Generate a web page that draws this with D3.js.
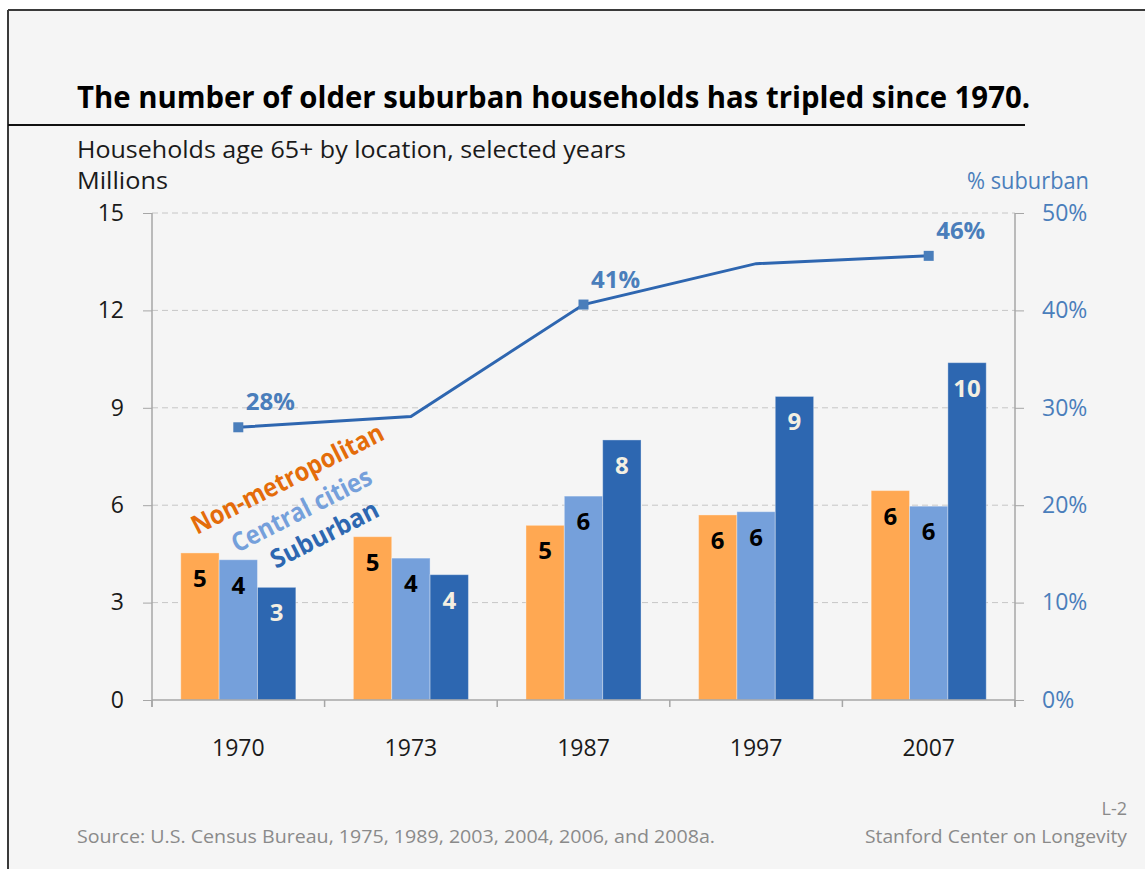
<!DOCTYPE html>
<html>
<head>
<meta charset="utf-8">
<script src="https://cdn.jsdelivr.net/npm/d3@7"></script>
<style>
  body { margin: 0; background: #fff; }
  text { font-family: "Open Sans", sans-serif; }
</style>
</head>
<body>
<script>
  // values (millions of households, % suburban)
  const years = ["1970", "1973", "1987", "1997", "2007"];
  const seriesNames = ["Non-metropolitan", "Central cities", "Suburban"];
  const nonMetro = [4.53, 5.03, 5.38, 5.70, 6.45];
  const centralCities = [4.32, 4.37, 6.28, 5.80, 5.97];
  const suburban = [3.47, 3.86, 8.01, 9.35, 10.39];
  const pctSuburban = [28.0, 29.1, 40.6, 44.8, 45.6];
  const markedYears = ["1970", "1987", "2007"];
  const leftTicks = [0, 3, 6, 9, 12, 15];
  const rightTicks = [0, 10, 20, 30, 40, 50];

(function() {
  const colors = ["#ffa852", "#75a0db", "#2d67b1"];
  const legendColors = ["#e46c0a", "#75a0db", "#2d67b1"];
  const labelColors = ["#000", "#000", "#f3efe2"];
  const lineColor = "#2e66b0";
  const pctColor = "#4a7ebb";

  const width = 1145, height = 869;
  const plotLeft = 152, plotRight = 1015, plotTop = 213, plotBottom = 700;

  let svg = d3.select("body").append("svg")
    .attr("width", width)
    .attr("height", height);

  // background + frame
  svg.append("rect")
    .attr("x", 8).attr("y", 10)
    .attr("width", width - 8).attr("height", height - 10)
    .attr("fill", "#f5f5f5");
  svg.append("line")
    .attr("x1", 8).attr("x2", 8).attr("y1", 10).attr("y2", height)
    .attr("stroke", "#3a3a3a").attr("stroke-width", 2);
  svg.append("line")
    .attr("x1", 8).attr("x2", width).attr("y1", 10).attr("y2", 10)
    .attr("stroke", "#3a3a3a").attr("stroke-width", 2);

  // title block
  svg.append("text")
    .attr("x", 77).attr("y", 108)
    .attr("textLength", 953).attr("lengthAdjust", "spacingAndGlyphs")
    .style("font-size", "31px").style("font-weight", "bold")
    .text("The number of older suburban households has tripled since 1970.");
  svg.append("line")
    .attr("x1", 8).attr("x2", 1025).attr("y1", 125).attr("y2", 125)
    .attr("stroke", "#111").attr("stroke-width", 2);
  svg.append("text")
    .attr("x", 77).attr("y", 158)
    .attr("textLength", 549).attr("lengthAdjust", "spacingAndGlyphs")
    .style("font-size", "23px").attr("fill", "#1a1a1a")
    .text("Households age 65+ by location, selected years");
  svg.append("text")
    .attr("x", 77).attr("y", 189)
    .attr("textLength", 91).attr("lengthAdjust", "spacingAndGlyphs")
    .style("font-size", "23px").attr("fill", "#1a1a1a")
    .text("Millions");
  svg.append("text")
    .attr("x", 1089).attr("y", 189)
    .attr("text-anchor", "end")
    .attr("textLength", 122).attr("lengthAdjust", "spacingAndGlyphs")
    .style("font-size", "23px").attr("fill", pctColor)
    .text("% suburban");

  // scales
  let y = d3.scaleLinear().domain([0, 15]).range([plotBottom, plotTop]);
  let yR = d3.scaleLinear().domain([0, 50]).range([plotBottom, plotTop]);
  let x0 = d3.scaleBand().domain(years).range([plotLeft, plotRight])
    .paddingInner(1 / 3).paddingOuter(1 / 6);
  let x1 = d3.scaleBand().domain(seriesNames).range([0, x0.bandwidth()]);

  // gridlines
  svg.append("g").selectAll("line")
    .data(leftTicks.filter((d) => d > 0))
    .enter().append("line")
      .attr("x1", plotLeft).attr("x2", plotRight)
      .attr("y1", (d) => y(d)).attr("y2", (d) => y(d))
      .attr("stroke", "#c6c6c6").attr("stroke-dasharray", "6,4");

  // left axis
  let yAxis = svg.append("g")
    .attr("transform", "translate(" + plotLeft + ",0)")
    .call(d3.axisLeft(y).tickValues(leftTicks).tickSize(9).tickPadding(19));
  yAxis.select(".domain").remove();
  yAxis.selectAll("line").attr("stroke", "#a6a6a6");
  yAxis.selectAll("text").style("font-size", "23px").attr("fill", "#1a1a1a");

  // right axis
  let yAxisR = svg.append("g")
    .attr("transform", "translate(" + plotRight + ",0)")
    .call(d3.axisRight(yR).tickValues(rightTicks).tickSize(9).tickPadding(18)
      .tickFormat((d) => d + "%"));
  yAxisR.select(".domain").remove();
  yAxisR.selectAll("line").attr("stroke", "#a6a6a6");
  yAxisR.selectAll("text").style("font-size", "23px").attr("fill", pctColor);

  svg.append("line")
    .attr("x1", plotLeft).attr("x2", plotLeft).attr("y1", plotTop).attr("y2", plotBottom + 7)
    .attr("stroke", "#a6a6a6").attr("stroke-width", 1.5);
  svg.append("line")
    .attr("x1", plotRight).attr("x2", plotRight).attr("y1", plotTop).attr("y2", plotBottom + 7)
    .attr("stroke", "#a6a6a6").attr("stroke-width", 1.5);

  // bars
  let seriesValues = [nonMetro, centralCities, suburban];
  let groups = svg.append("g").selectAll("g")
    .data(years)
    .enter().append("g")
      .attr("transform", (d) => "translate(" + x0(d) + ",0)");

  groups.each(function(year, i) {
    let g = d3.select(this);
    seriesNames.forEach((name, s) => {
      let v = seriesValues[s][i];
      g.append("rect")
        .attr("x", x1(name))
        .attr("y", y(v))
        .attr("width", x1.bandwidth())
        .attr("height", y(0) - y(v))
        .attr("fill", colors[s])
        .attr("stroke", "#ffffff").attr("stroke-opacity", 0.35).attr("stroke-width", 1);
      g.append("text")
        .attr("x", x1(name) + x1.bandwidth() / 2)
        .attr("y", y(v) + 34)
        .attr("text-anchor", "middle")
        .style("font-size", "24px").style("font-weight", "bold")
        .attr("fill", labelColors[s])
        .text(Math.round(v));
    });
  });

  // bottom axis
  svg.append("line")
    .attr("x1", plotLeft).attr("x2", plotRight).attr("y1", plotBottom).attr("y2", plotBottom)
    .attr("stroke", "#a6a6a6").attr("stroke-width", 1.5);
  let xAxis = svg.append("g")
    .attr("transform", "translate(0," + plotBottom + ")")
    .call(d3.axisBottom(x0).tickSize(0));
  xAxis.select(".domain").remove();
  xAxis.selectAll("text")
    .attr("y", 56).attr("dy", 0)
    .style("font-size", "23px").attr("fill", "#1a1a1a");
  let bounds = years.map((d) => x0(d) - x0.step() * x0.paddingOuter()).concat([plotRight]);
  svg.append("g").selectAll("line")
    .data(bounds)
    .enter().append("line")
      .attr("x1", (d) => d).attr("x2", (d) => d)
      .attr("y1", plotBottom).attr("y2", plotBottom + 7)
      .attr("stroke", "#a6a6a6").attr("stroke-width", 1.5);

  // % suburban line
  let cx = (d) => x0(d) + x0.bandwidth() / 2;
  let line = d3.line()
    .x((d, i) => cx(years[i]))
    .y((d) => yR(d));
  svg.append("path")
    .datum(pctSuburban)
    .attr("fill", "none")
    .attr("stroke", lineColor)
    .attr("stroke-width", 3)
    .attr("d", line);

  let marked = years.map((d, i) => ({ year: d, v: pctSuburban[i] }))
    .filter((d) => markedYears.includes(d.year));
  svg.append("g").selectAll("rect")
    .data(marked)
    .enter().append("rect")
      .attr("x", (d) => cx(d.year) - 5)
      .attr("y", (d) => yR(d.v) - 5)
      .attr("width", 10).attr("height", 10)
      .attr("fill", pctColor);
  svg.append("g").selectAll("text")
    .data(marked)
    .enter().append("text")
      .attr("x", (d) => cx(d.year) + 32)
      .attr("y", (d) => yR(d.v) - 17)
      .attr("text-anchor", "middle")
      .style("font-size", "24px").style("font-weight", "bold")
      .attr("fill", pctColor)
      .text((d) => Math.round(d.v) + "%");

  // rotated series labels
  let legendPos = [[197, 535], [237, 553], [276, 569]];
  let legendLen = [212, 154, 118];
  seriesNames.forEach((name, s) => {
    svg.append("text")
      .attr("transform", "translate(" + legendPos[s][0] + "," + legendPos[s][1] + ")rotate(-27)")
      .attr("textLength", legendLen[s]).attr("lengthAdjust", "spacingAndGlyphs")
      .style("font-size", "26px").style("font-weight", "bold")
      .attr("fill", legendColors[s])
      .text(name);
  });

  // footer
  svg.append("text")
    .attr("x", 77).attr("y", 843)
    .attr("textLength", 638).attr("lengthAdjust", "spacingAndGlyphs")
    .style("font-size", "18px").attr("fill", "#8a8a8a")
    .text("Source: U.S. Census Bureau, 1975, 1989, 2003, 2004, 2006, and 2008a.");
  svg.append("text")
    .attr("x", 1127).attr("y", 815)
    .attr("text-anchor", "end")
    .style("font-size", "18px").attr("fill", "#8a8a8a")
    .text("L-2");
  svg.append("text")
    .attr("x", 1127).attr("y", 843)
    .attr("text-anchor", "end")
    .attr("textLength", 262).attr("lengthAdjust", "spacingAndGlyphs")
    .style("font-size", "18px").attr("fill", "#8a8a8a")
    .text("Stanford Center on Longevity");
})();
</script>
</body>
</html>
